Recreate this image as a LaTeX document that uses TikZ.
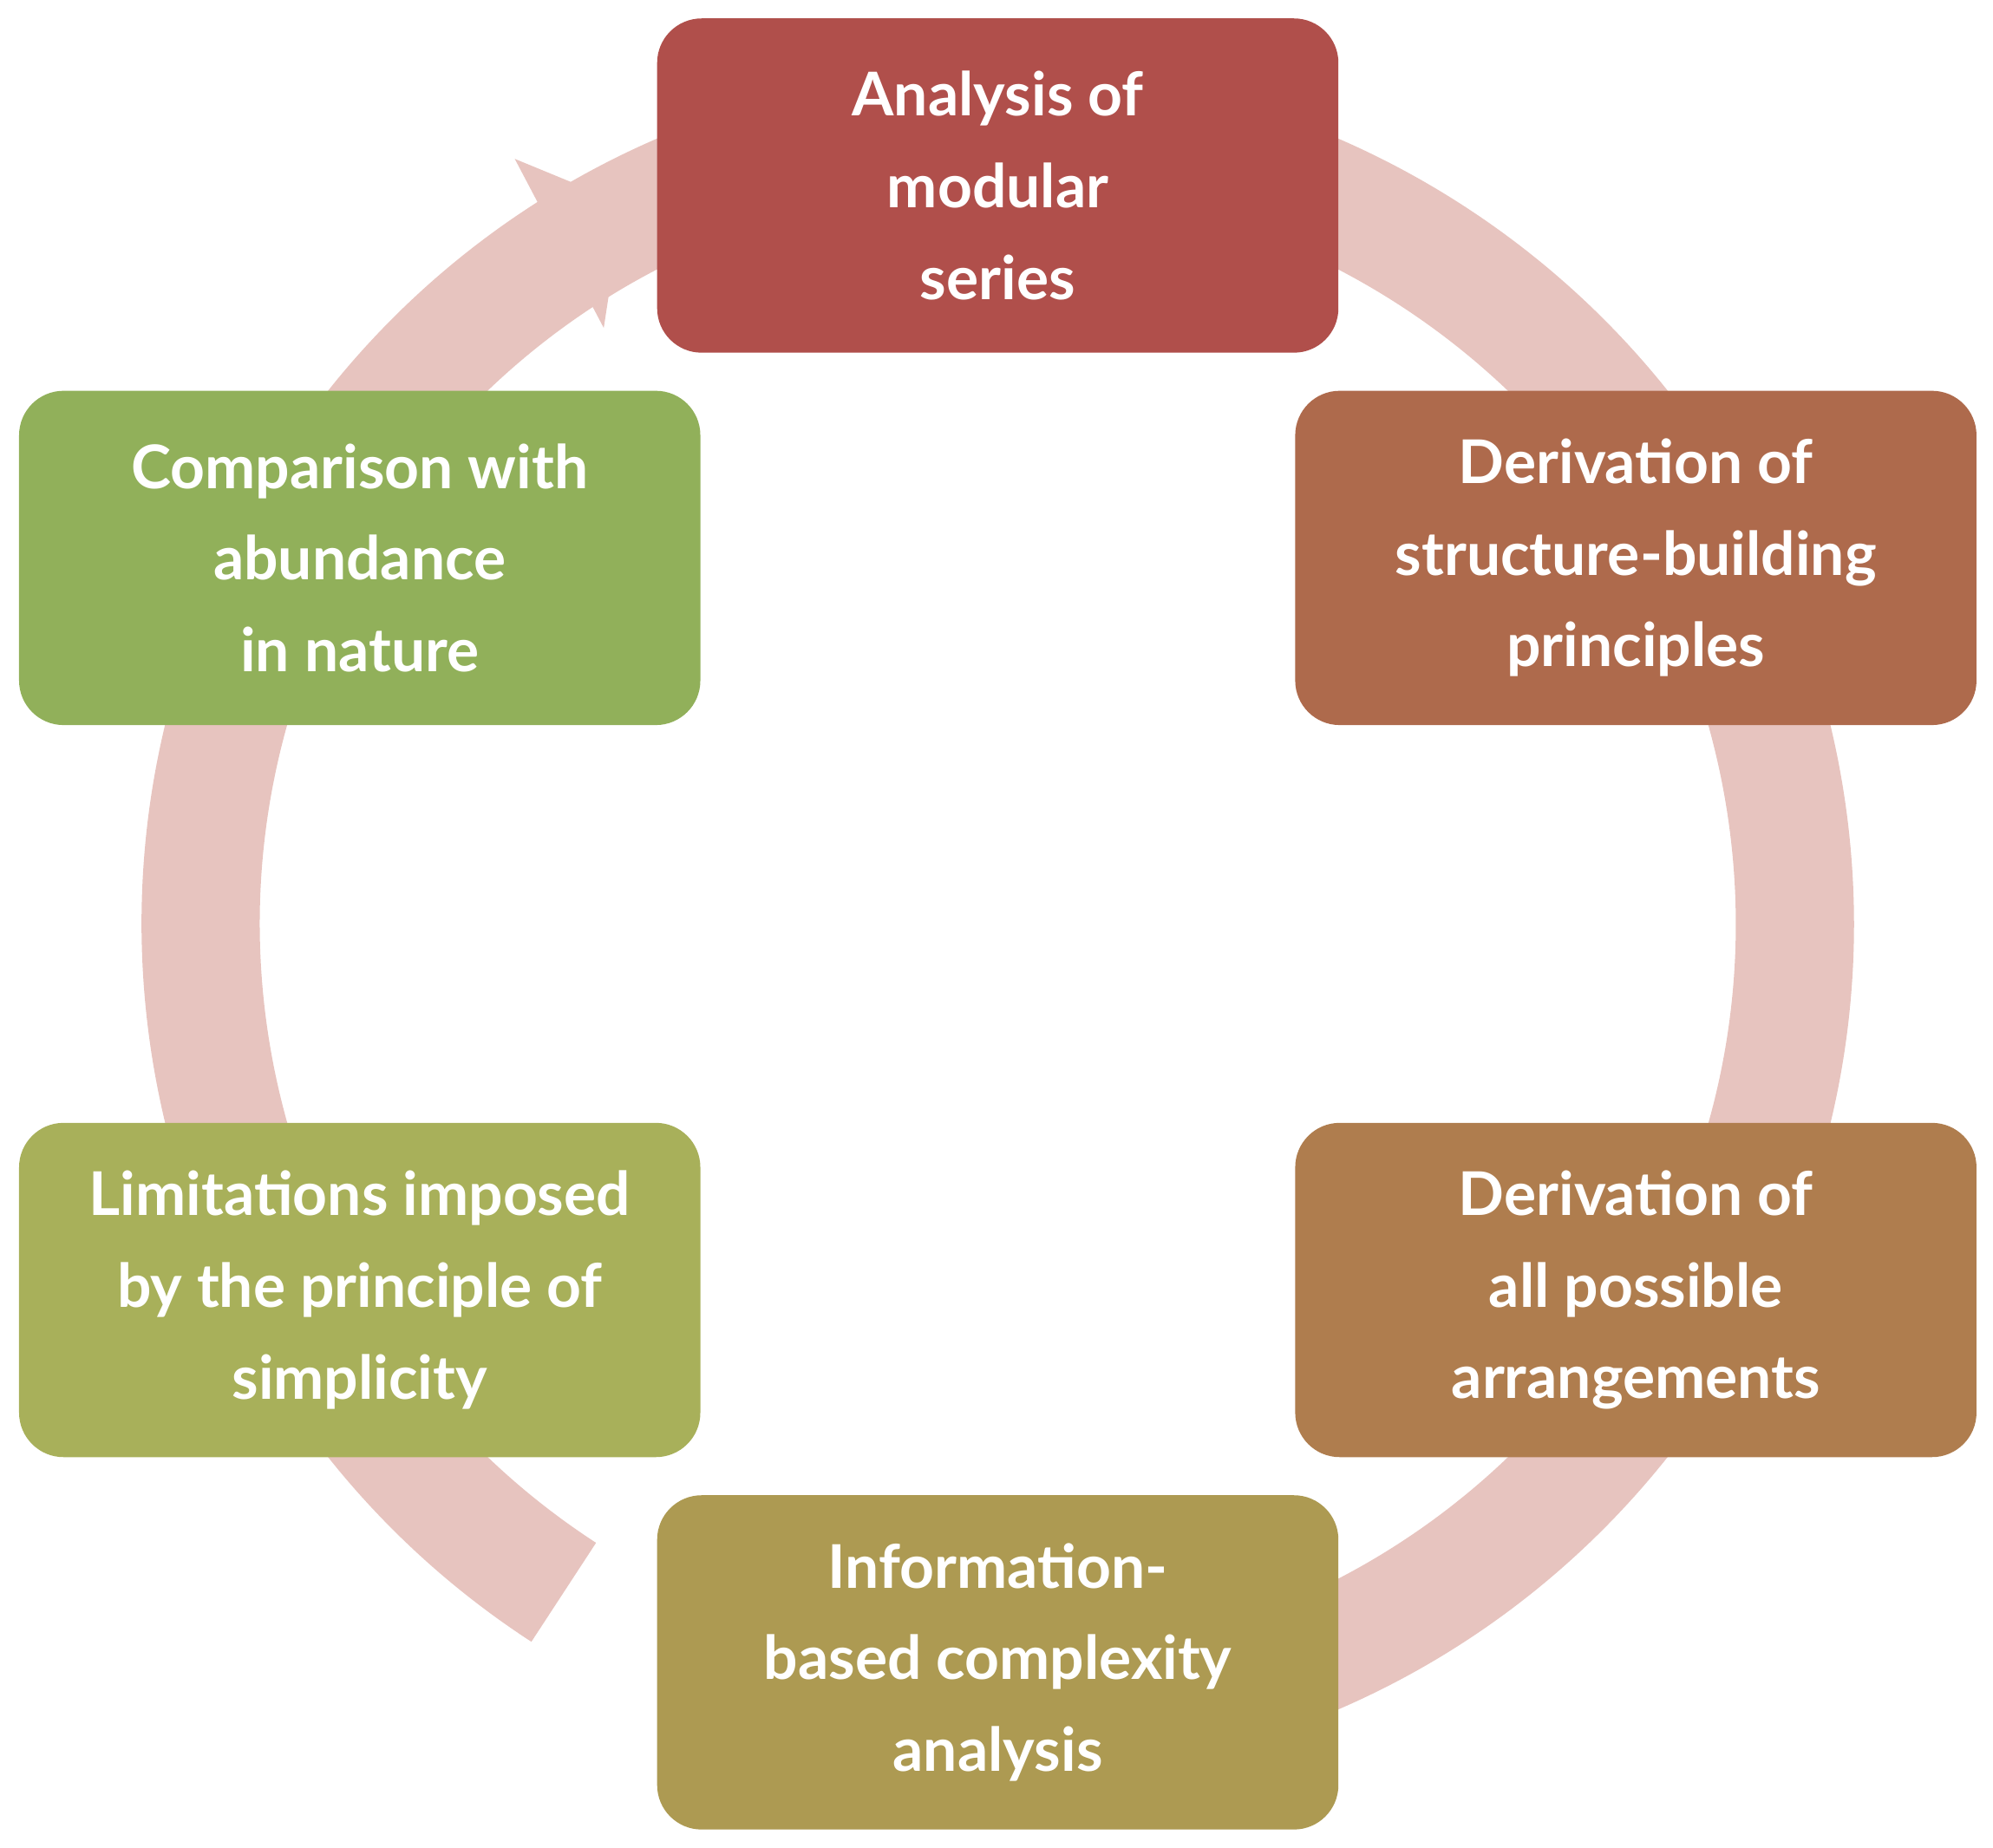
\documentclass[tikz,border=0pt]{standalone}
\usepackage{fontspec}
\setmainfont{Lato}[UprightFont=* Bold]
\begin{document}
\begin{tikzpicture}[x=0.1mm,y=-0.1mm,
 box/.style={rounded corners=3.5mm,minimum width=53.6mm,minimum height=26.3mm,inner sep=0pt,text=white,align=center,font=\fontsize{13.5}{20.5}\selectfont}]
\useasboundingbox (0,0) rectangle (1568,1454);
\definecolor{ring}{HTML}{E7C4BF}
\draw[ring,line width=9.3mm] (785,727) ++(75:627) arc[start angle=75,end angle=-237,radius=627];
\fill[ring] (405,125) -- (490,160) -- (475,258) -- cycle;
\node[box,fill={rgb,255:red,176;green,79;blue,75}] (a) at (785,146) {Analysis of\\modular\\series};
\node[box,fill={rgb,255:red,174;green,106;blue,76}] (b) at (1287,439) {Derivation of\\structure-building\\principles};
\node[box,fill={rgb,255:red,175;green,125;blue,78}] (c) at (1287,1015) {Derivation of\\all possible\\arrangements};
\node[box,fill={rgb,255:red,173;green,154;blue,82}] (d) at (785,1308) {Information-\\based complexity\\analysis};
\node[box,fill={rgb,255:red,168;green,176;blue,90}] (e) at (283,1015) {Limitations imposed\\by the principle of\\simplicity};
\node[box,fill={rgb,255:red,145;green,176;blue,90}] (f) at (283,439) {Comparison with\\abundance\\in nature};
\end{tikzpicture}
\end{document}
